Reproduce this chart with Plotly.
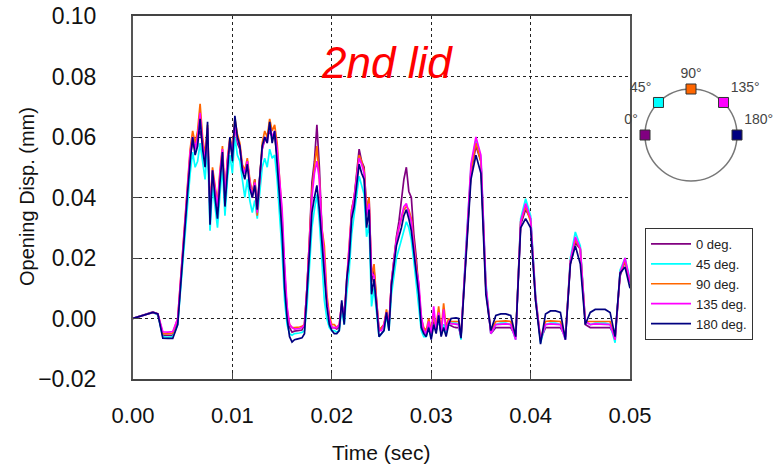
import numpy as np
import plotly.graph_objects as go

# ---------------- data ----------------
# sample times (s): 0.5 ms steps, 0.25 ms steps in the busy 5-33 ms part
time_s = ([round(i * 0.0005, 5) for i in range(10)]
          + [round(0.005 + k * 0.00025, 5) for k in range(113)]
          + [round(0.0335 + j * 0.0005, 5) for j in range(34)])

disp_0deg = [
    0.000, 0.0005, 0.001, 0.0015, 0.0022, 0.0015, -0.0055, -0.0056, -0.0055, -0.001,
    # 5 ms .. 33 ms
    0.022, 0.034, 0.044, 0.054, 0.058, 0.056, 0.060, 0.062, 0.058, 0.053,
    0.060, 0.036, 0.047, 0.043, 0.036, 0.047, 0.054, 0.040, 0.052, 0.058,
    0.054, 0.064, 0.058, 0.056, 0.050, 0.048, 0.052, 0.045, 0.041, 0.046,
    0.038, 0.047, 0.056, 0.059, 0.060, 0.062, 0.060, 0.060, 0.054, 0.044,
    0.030, 0.012, 0.002, -0.003, -0.0045, -0.0042, -0.004, -0.004, -0.0038, -0.002,
    0.010, 0.026, 0.045, 0.052, 0.064, 0.050, 0.030, 0.016, 0.006, 0.000,
    -0.003, -0.003, -0.0035, -0.003, 0.004, 0.001, 0.010, 0.020, 0.036, 0.040,
    0.048, 0.056, 0.052, 0.050, 0.036, 0.040, 0.012, 0.016, 0.006, -0.004,
    -0.003, -0.002, 0.002, -0.002, 0.012, 0.020, 0.027, 0.032, 0.040, 0.046,
    0.050, 0.042, 0.040, 0.028, 0.020, 0.010, -0.001, -0.004, -0.005, -0.002,
    -0.006, -0.001, -0.004, 0.000, -0.005, -0.002, -0.004, -0.002, -0.0025, -0.0028,
    -0.003, -0.003, -0.0055,
    # 33.5 ms .. 50 ms
    0.021, 0.048, 0.057, 0.052, 0.010, -0.005, -0.003, -0.003, -0.003, -0.003,
    -0.006, 0.031, 0.036, 0.033, 0.006, -0.007, -0.003, -0.003, -0.003, -0.003,
    -0.006, 0.018, 0.025, 0.023, -0.002, -0.003, -0.003, -0.003, -0.003, -0.003,
    -0.006, 0.014, 0.019, 0.012]

disp_45deg = [
    0.000, 0.0005, 0.001, 0.0015, 0.002, 0.0012, -0.006, -0.0062, -0.006, -0.002,
    0.018, 0.029, 0.039, 0.048, 0.055, 0.050, 0.052, 0.058, 0.052, 0.046,
    0.058, 0.029, 0.044, 0.036, 0.030, 0.041, 0.050, 0.034, 0.046, 0.054,
    0.048, 0.060, 0.054, 0.052, 0.045, 0.040, 0.046, 0.039, 0.035, 0.039,
    0.033, 0.042, 0.050, 0.053, 0.050, 0.056, 0.053, 0.054, 0.046, 0.034,
    0.022, 0.006, -0.002, -0.005, -0.0055, -0.005, -0.005, -0.0048, -0.0046, -0.004,
    0.004, 0.018, 0.030, 0.036, 0.041, 0.032, 0.020, 0.006, 0.000, -0.003,
    -0.004, -0.004, -0.0045, -0.004, 0.003, -0.002, 0.008, 0.016, 0.028, 0.034,
    0.040, 0.047, 0.044, 0.041, 0.027, 0.031, 0.004, 0.010, 0.002, -0.006,
    -0.005, -0.004, 0.001, -0.004, 0.008, 0.015, 0.020, 0.023, 0.026, 0.029,
    0.032, 0.030, 0.026, 0.019, 0.012, 0.005, -0.004, -0.006, -0.006, -0.003,
    -0.006, -0.002, -0.004, 0.000, -0.005, -0.002, -0.005, -0.002, -0.0015, -0.0015,
    -0.0015, -0.002, -0.007,
    0.024, 0.050, 0.059, 0.053, 0.012, -0.005, -0.002, -0.0015, -0.0015, -0.002,
    -0.007, 0.033, 0.0396, 0.034, 0.008, -0.008, -0.002, -0.0015, -0.0015, -0.002,
    -0.007, 0.020, 0.0286, 0.024, -0.001, -0.002, -0.0015, -0.0015, -0.0015, -0.002,
    -0.008, 0.016, 0.020, 0.013]

disp_90deg = [
    0.000, 0.0005, 0.001, 0.0015, 0.002, 0.0015, -0.005, -0.005, -0.0048, 0.000,
    0.023, 0.035, 0.046, 0.056, 0.062, 0.058, 0.062, 0.071, 0.060, 0.054,
    0.064, 0.036, 0.050, 0.044, 0.038, 0.049, 0.057, 0.041, 0.053, 0.060,
    0.056, 0.066, 0.061, 0.058, 0.051, 0.049, 0.053, 0.046, 0.041, 0.046,
    0.034, 0.046, 0.058, 0.062, 0.060, 0.066, 0.062, 0.064, 0.058, 0.046,
    0.034, 0.014, 0.003, -0.002, -0.003, -0.003, -0.003, -0.0028, -0.0026, -0.002,
    0.010, 0.026, 0.042, 0.050, 0.057, 0.046, 0.030, 0.024, 0.008, 0.001,
    -0.002, -0.002, -0.003, -0.002, 0.005, 0.001, 0.012, 0.022, 0.036, 0.040,
    0.048, 0.054, 0.052, 0.049, 0.036, 0.040, 0.014, 0.018, 0.006, -0.004,
    -0.003, -0.002, 0.003, -0.002, 0.012, 0.020, 0.026, 0.030, 0.033, 0.036,
    0.037, 0.036, 0.033, 0.026, 0.018, 0.010, 0.000, -0.003, -0.004, 0.000,
    -0.004, 0.001, -0.003, 0.004, -0.004, 0.005, -0.003, 0.000, -0.001, -0.001,
    -0.0008, -0.001, -0.006,
    0.022, 0.049, 0.058, 0.052, 0.010, -0.004, -0.001, -0.0008, -0.0008, -0.001,
    -0.006, 0.032, 0.037, 0.032, 0.007, -0.007, -0.001, -0.0008, -0.0008, -0.001,
    -0.006, 0.019, 0.026, 0.023, -0.001, -0.001, -0.0008, -0.0008, -0.0008, -0.001,
    -0.007, 0.015, 0.019, 0.012]

disp_135deg = [
    0.000, 0.0005, 0.001, 0.0015, 0.002, 0.0015, -0.0044, -0.0045, -0.0043, 0.000,
    0.022, 0.034, 0.045, 0.055, 0.060, 0.056, 0.060, 0.068, 0.058, 0.052,
    0.063, 0.035, 0.049, 0.043, 0.037, 0.048, 0.056, 0.040, 0.052, 0.059,
    0.055, 0.064, 0.059, 0.057, 0.050, 0.048, 0.052, 0.045, 0.040, 0.045,
    0.035, 0.046, 0.056, 0.060, 0.058, 0.064, 0.060, 0.062, 0.056, 0.046,
    0.036, 0.018, 0.004, -0.002, -0.003, -0.0035, -0.0035, -0.0033, -0.003, -0.002,
    0.010, 0.025, 0.040, 0.048, 0.052, 0.046, 0.030, 0.020, 0.006, 0.000,
    -0.003, -0.003, -0.003, -0.002, 0.005, 0.001, 0.012, 0.022, 0.035, 0.040,
    0.047, 0.053, 0.051, 0.048, 0.034, 0.038, 0.015, 0.014, 0.005, -0.004,
    -0.004, -0.002, 0.002, -0.002, 0.012, 0.020, 0.026, 0.030, 0.034, 0.037,
    0.038, 0.035, 0.032, 0.024, 0.016, 0.012, 0.001, -0.004, -0.005, -0.001,
    -0.005, 0.004, -0.004, 0.002, -0.005, 0.003, -0.004, -0.001, -0.0018, -0.0018,
    -0.0018, -0.002, -0.006,
    0.023, 0.051, 0.060, 0.054, 0.011, -0.005, -0.002, -0.0018, -0.0018, -0.002,
    -0.007, 0.032, 0.038, 0.033, 0.007, -0.007, -0.002, -0.0018, -0.0018, -0.002,
    -0.007, 0.019, 0.027, 0.023, -0.001, -0.002, -0.0018, -0.0018, -0.0018, -0.002,
    -0.007, 0.015, 0.020, 0.012]

disp_180deg = [
    0.000, 0.0005, 0.001, 0.0015, 0.002, 0.0015, -0.0065, -0.0066, -0.0066, -0.002,
    0.021, 0.032, 0.042, 0.052, 0.060, 0.054, 0.057, 0.066, 0.056, 0.050,
    0.065, 0.031, 0.049, 0.040, 0.033, 0.045, 0.055, 0.037, 0.050, 0.060,
    0.052, 0.067, 0.060, 0.057, 0.049, 0.046, 0.051, 0.043, 0.040, 0.044,
    0.036, 0.048, 0.057, 0.060, 0.058, 0.065, 0.058, 0.062, 0.052, 0.040,
    0.028, 0.010, 0.000, -0.006, -0.0078, -0.007, -0.0068, -0.0066, -0.0064, -0.005,
    0.008, 0.022, 0.035, 0.040, 0.044, 0.036, 0.025, 0.012, 0.004, -0.002,
    -0.004, -0.005, -0.005, -0.004, 0.006, -0.002, 0.013, 0.020, 0.033, 0.037,
    0.045, 0.051, 0.048, 0.046, 0.030, 0.036, 0.008, 0.013, 0.004, -0.006,
    -0.005, -0.004, 0.002, -0.004, 0.011, 0.018, 0.024, 0.027, 0.030, 0.034,
    0.036, 0.033, 0.029, 0.022, 0.015, 0.008, -0.003, -0.005, -0.006, -0.003,
    -0.007, -0.002, -0.005, 0.001, -0.006, -0.003, -0.006, -0.002, 0.000, 0.0002,
    0.0002, 0.000, -0.0065,
    0.020, 0.046, 0.054, 0.048, 0.008, -0.004, 0.001, 0.0015, 0.0015, 0.001,
    -0.006, 0.030, 0.033, 0.030, 0.006, -0.0085, 0.0015, 0.0025, 0.0025, 0.002,
    -0.007, 0.018, 0.024, 0.018, -0.002, 0.002, 0.003, 0.003, 0.003, 0.002,
    -0.006, 0.015, 0.017, 0.010]

series_values = [disp_0deg, disp_45deg, disp_90deg, disp_135deg, disp_180deg]
series_names = ["0 deg.", "45 deg.", "90 deg.", "135 deg.", "180 deg."]
series_colors = ["#800080", "#00FFFF", "#FF6600", "#FF00FF", "#000080"]

angles_deg = [0, 45, 90, 135, 180]
angle_labels = ["0°", "45°", "90°", "135°", "180°"]
angle_text_pos = ["top left", "top left", "top center", "top right", "top right"]

x_tick_vals = [0.00, 0.01, 0.02, 0.03, 0.04, 0.05]
y_tick_vals = [-0.02, 0.00, 0.02, 0.04, 0.06, 0.08, 0.10]

title_text = "2nd lid"
x_title = "Time (sec)"
y_title = "Opening Disp. (mm)"

for v in series_values:
    assert len(v) == len(time_s), (len(v), len(time_s))

# ---------------- layout geometry (pixels) ----------------
W, H = 781, 465
ML, MR, MT, MB = 133, 5, 16, 86
PW = W - ML - MR
PH = H - MT - MB
plot_right_px = 630


def px_x(p):
    return (p - ML) / PW


def px_y(p):
    return (H - MB - p) / PH


FONT = "Liberation Sans, Arial, sans-serif"

fig = go.Figure()

for name, vals, col in zip(series_names, series_values, series_colors):
    fig.add_trace(go.Scatter(
        x=time_s, y=vals, name=name, mode="lines",
        line=dict(color=col, width=1.7),
        xaxis="x", yaxis="y",
    ))

# orientation diagram markers (positions from the angle list)
ang = np.deg2rad(180 - np.array(angles_deg))
fig.add_trace(go.Scatter(
    x=np.cos(ang), y=np.sin(ang), mode="markers+text",
    text=angle_labels, textposition=angle_text_pos,
    textfont=dict(family=FONT, size=14, color="#444"),
    marker=dict(symbol="square", size=10, color=series_colors,
                line=dict(color="#333", width=1)),
    cliponaxis=False,
    xaxis="x2", yaxis="y2", showlegend=False, hoverinfo="skip",
))

grid = dict(showgrid=True, gridcolor="#222", gridwidth=1, griddash="3px,3px")

fig.update_layout(
    width=W, height=H,
    margin=dict(l=ML, r=MR, t=MT, b=MB, pad=0, autoexpand=False),
    paper_bgcolor="white", plot_bgcolor="white",
    font=dict(family=FONT, color="#111"),
    xaxis=dict(
        domain=[0, px_x(plot_right_px)], range=[0, 0.05],
        tickvals=x_tick_vals, tickformat=".2f",
        ticks="inside", ticklen=6, tickcolor="#444",
        tickfont=dict(family=FONT, size=22, color="#111"),
        ticklabelstandoff=16, automargin=False,
        showline=True, linecolor="#444", linewidth=2, mirror=True,
        zeroline=False, **grid,
    ),
    yaxis=dict(
        range=[-0.02, 0.10], tickvals=y_tick_vals, tickformat=".2f",
        ticks="inside", ticklen=6, tickcolor="#444",
        tickfont=dict(family=FONT, size=23, color="#111"),
        ticklabelstandoff=30, automargin=False,
        showline=True, linecolor="#555", linewidth=2, mirror=True,
        zeroline=False, **grid,
    ),
    xaxis2=dict(domain=[px_x(641), px_x(741)], range=[-1.087, 1.087],
                visible=False, anchor="y2", automargin=False),
    yaxis2=dict(domain=[px_y(185), px_y(85)], range=[-1.087, 1.087],
                visible=False, anchor="x2", automargin=False),
    shapes=[dict(type="circle", xref="x2", yref="y2", x0=-1, x1=1, y0=-1, y1=1,
                 line=dict(color="#777", width=1.5), layer="below")],
    legend=dict(
        x=px_x(645), y=px_y(228), xanchor="left", yanchor="top",
        bgcolor="white", bordercolor="#333", borderwidth=1,
        font=dict(family=FONT, size=13, color="#222"),
        itemwidth=40, tracegroupgap=0,
    ),
    annotations=[
        dict(text=title_text, x=px_x(387), y=px_y(63), xref="paper", yref="paper",
             showarrow=False, xanchor="center", yanchor="middle",
             font=dict(family=FONT, size=44, color="#FF0000", style="italic")),
        dict(text=x_title, x=px_x(381), y=px_y(452), xref="paper", yref="paper",
             showarrow=False, xanchor="center", yanchor="middle",
             font=dict(family=FONT, size=21, color="#111")),
        dict(text=y_title, x=px_x(27), y=px_y(197), xref="paper", yref="paper",
             showarrow=False, xanchor="center", yanchor="middle", textangle=-90,
             font=dict(family=FONT, size=20, color="#111")),
    ],
)

fig.write_html("out.html")
